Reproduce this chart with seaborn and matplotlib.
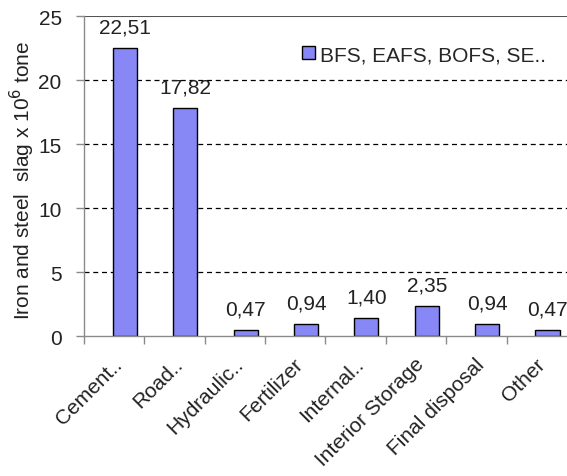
import matplotlib
matplotlib.use("Agg")
import matplotlib.pyplot as plt
import matplotlib.transforms as mtransforms
from matplotlib.patches import Patch
import seaborn as sns
import pandas as pd

# Slag utilisation by destination
categories = ["Cement..", "Road..", "Hydraulic..", "Fertilizer", "Internal..",
              "Interior Storage", "Final disposal", "Other"]
values = [22.51, 17.82, 0.47, 0.94, 1.40, 2.35, 0.94, 0.47]
series_name = "BFS, EAFS, BOFS, SE.."
y_ticks = [0, 5, 10, 15, 20, 25]

sns.set_theme(style="white")
plt.rcParams["font.family"] = ["Liberation Sans", "DejaVu Sans"]

FS = 15
TXT = "#222222"
AXC = "#8a8a8a"

df = pd.DataFrame({"category": categories, "value": values})

fig = plt.figure(figsize=(5.67, 4.77), dpi=100)
ax = fig.add_axes([0.148, 0.2935, 0.852, 0.6705])

bar_color = "#8787F5"
sns.barplot(data=df, x="category", y="value", color=bar_color, width=0.40,
            edgecolor="black", linewidth=1.0, ax=ax, saturation=1)

# each category band spans one unit; bars sit right of the band centre
band_left = -0.678
ax.set_ylim(0, 25)
ax.set_xlim(band_left, band_left + len(categories))
ax.set_yticks(y_ticks)
ax.set_yticklabels([str(t) for t in y_ticks], fontsize=FS, color=TXT)

# dashed gridlines at interior ticks
for t in y_ticks[1:-1]:
    ax.axhline(t, color="black", linestyle=(0, (4, 3)), linewidth=0.9, zorder=0)
ax.axhline(25, color="#555555", linewidth=1.5, zorder=0)

for side in ["top", "right"]:
    ax.spines[side].set_visible(False)
for side in ["left", "bottom"]:
    ax.spines[side].set_color(AXC)
    ax.spines[side].set_linewidth(1.0)

ax.tick_params(axis="y", direction="out", length=6, width=1, color=AXC,
               pad=10, left=True)

# category tick marks at band edges, labels under bars
ax.set_xticks(range(len(categories)))
ax.set_xticklabels(categories, rotation=45, ha="right", va="top",
                   fontsize=FS, color=TXT)
ax.tick_params(axis="x", which="major", length=0, pad=13)
ax.set_xticks([band_left + k for k in range(len(categories))], minor=True)
ax.tick_params(axis="x", which="minor", direction="out", length=6, width=1,
               color=AXC, bottom=True)
offset = mtransforms.ScaledTranslation(1 / 100, 0, fig.dpi_scale_trans)
for lab in ax.get_xticklabels():
    lab.set_transform(lab.get_transform() + offset)

ax.set_xlabel("")
ax.set_ylabel("Iron and steel  slag x 10$^6$ tone", fontsize=FS, color=TXT)
ax.yaxis.label.set_verticalalignment("center")
ax.yaxis.set_label_coords(-0.128, 0.49)

# value labels above bars
for i, v in enumerate(values):
    ax.annotate(f"{v:.2f}".replace(".", ","), xy=(i, v), xytext=(0, 15),
                textcoords="offset points", ha="center", va="center",
                fontsize=FS, color=TXT)

handle = Patch(facecolor=bar_color, edgecolor="black", linewidth=1.0)
ax.legend([handle], [series_name], loc="center left",
          bbox_to_anchor=(0.435, 0.88), frameon=False, fontsize=FS,
          handlelength=0.6, handleheight=0.6, handletextpad=0.25,
          borderaxespad=0)

fig.savefig("out.png", dpi=100, facecolor="white")
